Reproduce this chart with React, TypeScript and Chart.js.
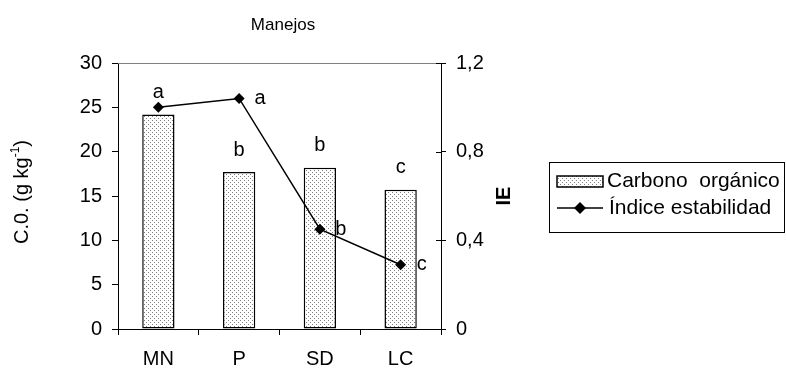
import React, { useEffect, useRef } from 'react';
import { Chart, registerables } from 'chart.js';

Chart.register(...registerables);

const categories = ['MN', 'P', 'SD', 'LC'];
const carbonoOrganico = [24.2, 17.7, 18.2, 15.7];
const indiceEstabilidad = [1.0, 1.04, 0.45, 0.29];
const barLetters = ['a', 'b', 'b', 'c'];
const lineLetters = ['', 'a', 'b', 'c'];
const leftMax = 30;
const leftStep = 5;
const rightMax = 1.2;
const rightStep = 0.4;

const FONT = '"Liberation Sans", Arial, Helvetica, sans-serif';

function makePattern(): CanvasPattern | string {
  const c = document.createElement('canvas');
  c.width = 4;
  c.height = 4;
  const g = c.getContext('2d');
  if (!g) return '#eee';
  g.fillStyle = '#ffffff';
  g.fillRect(0, 0, 4, 4);
  g.fillStyle = '#808080';
  g.fillRect(0, 0, 1, 1);
  g.fillRect(2, 2, 1, 1);
  const p = g.createPattern(c, 'repeat');
  return p || '#eee';
}

export default function App() {
  const ref = useRef<HTMLCanvasElement | null>(null);

  useEffect(() => {
    if (!ref.current) return;
    const pattern = makePattern();

    const annotate = {
      id: 'annotate',
      afterDraw(chart: any) {
        const { ctx, chartArea: a, scales } = chart;
        const y1 = scales.y1;
        ctx.save();
        // top border of plot area
        ctx.strokeStyle = '#808080';
        ctx.lineWidth = 1;
        ctx.beginPath();
        ctx.moveTo(a.left, a.top + 0.5);
        ctx.lineTo(a.right, a.top + 0.5);
        ctx.stroke();
        // inner part of right axis ticks (crossing ticks)
        ctx.strokeStyle = '#000';
        y1.ticks.forEach((t: any) => {
          const py = Math.round(y1.getPixelForValue(t.value)) + 0.5;
          ctx.beginPath();
          ctx.moveTo(a.right - 5, py);
          ctx.lineTo(a.right, py);
          ctx.stroke();
        });
        // title
        ctx.fillStyle = '#000';
        ctx.textAlign = 'center';
        ctx.textBaseline = 'middle';
        ctx.font = `17px ${FONT}`;
        ctx.fillText('Manejos', 283, 25);
        // significance letters
        ctx.font = `20px ${FONT}`;
        const barMeta = chart.getDatasetMeta(1);
        const lineMeta = chart.getDatasetMeta(0);
        barMeta.data.forEach((el: any, i: number) => {
          if (barLetters[i]) ctx.fillText(barLetters[i], el.x, el.y - 22);
        });
        lineMeta.data.forEach((el: any, i: number) => {
          if (lineLetters[i]) ctx.fillText(lineLetters[i], el.x + 21, el.y);
        });
        // left axis title
        ctx.save();
        ctx.translate(22, 192);
        ctx.rotate(-Math.PI / 2);
        ctx.textAlign = 'left';
        ctx.textBaseline = 'middle';
        const main = 'C.0. (g kg';
        const sup = '-1';
        const end = ')';
        ctx.font = `20px ${FONT}`;
        const wMain = ctx.measureText(main).width;
        const wEnd = ctx.measureText(end).width;
        ctx.font = `12px ${FONT}`;
        const wSup = ctx.measureText(sup).width;
        const total = wMain + wSup + wEnd;
        let cx = -total / 2;
        ctx.font = `20px ${FONT}`;
        ctx.fillText(main, cx, 0);
        cx += wMain;
        ctx.font = `12px ${FONT}`;
        ctx.fillText(sup, cx, -6);
        cx += wSup;
        ctx.font = `20px ${FONT}`;
        ctx.fillText(end, cx, 0);
        ctx.restore();
        // right axis title
        ctx.save();
        ctx.translate(504, 196);
        ctx.rotate(-Math.PI / 2);
        ctx.textAlign = 'center';
        ctx.textBaseline = 'middle';
        ctx.font = `bold 20px ${FONT}`;
        ctx.fillText('IE', 0, 0);
        ctx.restore();
        // legend
        ctx.strokeStyle = '#000';
        ctx.lineWidth = 1;
        ctx.strokeRect(549.5, 162.5, 235, 70);
        ctx.fillStyle = pattern as any;
        ctx.fillRect(557, 176, 46, 11);
        ctx.lineWidth = 1.5;
        ctx.strokeRect(557, 176, 46, 11);
        ctx.fillStyle = '#000';
        ctx.textAlign = 'left';
        ctx.textBaseline = 'middle';
        ctx.font = `21px ${FONT}`;
        ctx.fillText('Carbono  orgánico', 607, 181);
        ctx.beginPath();
        ctx.moveTo(557, 208);
        ctx.lineTo(603, 208);
        ctx.stroke();
        ctx.beginPath();
        ctx.moveTo(580, 202);
        ctx.lineTo(586, 208);
        ctx.lineTo(580, 214);
        ctx.lineTo(574, 208);
        ctx.closePath();
        ctx.fill();
        ctx.fillText('Índice estabilidad', 609, 208);
        ctx.restore();
      },
    };

    const chart = new Chart(ref.current, {
      data: {
        labels: categories,
        datasets: [
          {
            type: 'line',
            label: 'Índice estabilidad',
            data: indiceEstabilidad,
            yAxisID: 'y1',
            borderColor: '#000',
            borderWidth: 1.5,
            backgroundColor: '#000',
            pointStyle: 'rectRot',
            pointRadius: 5.5,
            pointBackgroundColor: '#000',
            pointBorderColor: '#000',
            pointBorderWidth: 0,
            tension: 0,
            order: 0,
          },
          {
            type: 'bar',
            label: 'Carbono orgánico',
            data: carbonoOrganico,
            yAxisID: 'y',
            backgroundColor: pattern as any,
            borderColor: '#000',
            borderWidth: 1.5,
            borderSkipped: false,
            categoryPercentage: 1,
            barPercentage: 0.4,
            order: 1,
          },
        ],
      } as any,
      options: {
        animation: false,
        responsive: false,
        devicePixelRatio: 1,
        layout: { padding: { top: 63, left: 0, right: 0, bottom: 0 } },
        plugins: {
          legend: { display: false },
          tooltip: { enabled: false },
          title: { display: false },
        },
        scales: {
          x: {
            type: 'category',
            offset: true,
            afterFit: (s: any) => {
              s.height = 40;
            },
            grid: {
              display: true,
              drawOnChartArea: false,
              drawTicks: true,
              tickLength: 6,
              offset: true,
              color: '#000',
            },
            border: { color: '#000', width: 1 },
            ticks: {
              color: '#000',
              font: { family: FONT, size: 20 },
              padding: 12,
            },
          },
          y: {
            type: 'linear',
            position: 'left',
            min: 0,
            max: leftMax,
            afterFit: (s: any) => {
              s.width = 118;
            },
            grid: {
              drawOnChartArea: false,
              drawTicks: true,
              tickLength: 6,
              color: '#000',
            },
            border: { color: '#000', width: 1 },
            ticks: {
              stepSize: leftStep,
              color: '#000',
              font: { family: FONT, size: 20 },
              padding: 10,
            },
          },
          y1: {
            type: 'linear',
            position: 'right',
            min: 0,
            max: rightMax,
            afterFit: (s: any) => {
              s.width = 345;
            },
            grid: {
              drawOnChartArea: false,
              drawTicks: true,
              tickLength: 5,
              color: '#000',
            },
            border: { color: '#000', width: 1 },
            ticks: {
              stepSize: rightStep,
              color: '#000',
              font: { family: FONT, size: 20 },
              padding: 10,
              callback: (v: any) => {
                const n = Number(v);
                if (Math.abs(n) < 1e-9) return '0';
                return n.toFixed(1).replace('.', ',');
              },
            },
          },
        },
      } as any,
      plugins: [annotate],
    });
    return () => chart.destroy();
  }, []);

  return (
    <div style={{ position: 'absolute', left: 0, top: 0, width: 786, height: 369, background: '#fff' }}>
      <canvas ref={ref} width={786} height={369} style={{ width: 786, height: 369, display: 'block' }} />
    </div>
  );
}
